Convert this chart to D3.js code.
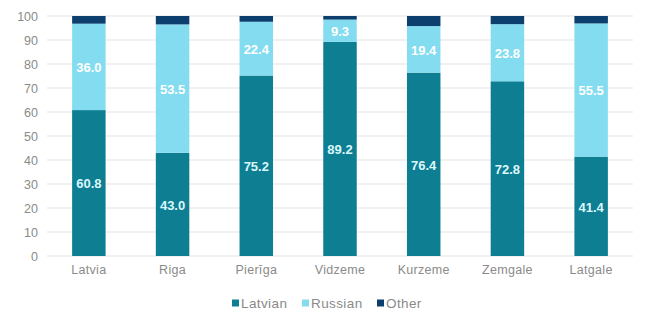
<!DOCTYPE html>
<html>
<head>
<meta charset="utf-8">
<script src="https://cdn.jsdelivr.net/npm/d3@7"></script>
<style>
  html, body { margin: 0; padding: 0; background: #fff; }
  svg { display: block; font-family: "Liberation Sans", Arial, sans-serif; }
</style>
</head>
<body>
<svg id="chart" width="650" height="324"></svg>
<script>
// Population by ethnicity, share of total (%)
const regions = ["Latvia", "Riga", "Pierīga", "Vidzeme", "Kurzeme", "Zemgale", "Latgale"];
const latvian = [60.8, 43.0, 75.2, 89.2, 76.4, 72.8, 41.4];
const russian = [36.0, 53.5, 22.4, 9.3, 19.4, 23.8, 55.5];
const other   = [3.2, 3.5, 2.4, 1.5, 4.2, 3.4, 3.1];
const seriesNames = ["Latvian", "Russian", "Other"];
const yTicks = [0, 10, 20, 30, 40, 50, 60, 70, 80, 90, 100];

const colors = { Latvian: "#0e7f93", Russian: "#84dcf0", Other: "#0d3f6e" };
const labelColors = { Latvian: "#dcf7fc", Russian: "#ffffff" };

const rows = regions.map((r, i) => ({ region: r, Latvian: latvian[i], Russian: russian[i], Other: other[i] }));
const stacked = d3.stack().keys(seriesNames)(rows);

const svg = d3.select("#chart");
const margin = { left: 47, right: 17, top: 16, bottom: 68 };
const W = 650, H = 324;

const x = d3.scaleBand().domain(regions).range([margin.left, W - margin.right]).paddingInner(0.6).paddingOuter(0.3);
const y = d3.scaleLinear().domain([0, 100]).range([H - margin.bottom, margin.top]);

// gridlines
svg.append("g").selectAll("line").data(yTicks).join("line")
  .attr("x1", margin.left).attr("x2", W - margin.right)
  .attr("y1", d => y(d)).attr("y2", d => y(d))
  .attr("stroke", "#e3e3e3").attr("stroke-width", 1);

// y axis labels
const yAxis = svg.append("g").attr("transform", `translate(${margin.left - 9},0)`)
  .call(d3.axisLeft(y).tickValues(yTicks).tickSize(0).tickPadding(0));
yAxis.select(".domain").remove();
yAxis.selectAll("text").attr("fill", "#8a8a8a").attr("font-size", 12.5)
  .style("font-family", "'Liberation Sans', Arial, sans-serif");

// x axis labels
const xAxis = svg.append("g").attr("transform", `translate(0,${y(0)})`)
  .call(d3.axisBottom(x).tickSize(0).tickPadding(9));
xAxis.select(".domain").remove();
xAxis.selectAll("text").attr("fill", "#8a8a8a").attr("font-size", 12.5)
  .style("letter-spacing", "0.3px")
  .style("font-family", "'Liberation Sans', Arial, sans-serif");

// stacked bars
const layers = svg.append("g").selectAll("g").data(stacked).join("g")
  .attr("fill", d => colors[d.key]);
layers.selectAll("rect").data(d => d).join("rect")
  .attr("x", d => x(d.data.region))
  .attr("width", x.bandwidth())
  .attr("y", d => y(d[1]))
  .attr("height", d => y(d[0]) - y(d[1]));

// value labels on Latvian and Russian segments
stacked.filter(s => s.key !== "Other").forEach(s => {
  svg.append("g").selectAll("text").data(s).join("text")
    .attr("x", d => x(d.data.region) + x.bandwidth() / 2)
    .attr("y", d => y((d[0] + d[1]) / 2))
    .attr("dy", "0.4em")
    .attr("text-anchor", "middle")
    .attr("font-size", 13)
    .attr("font-weight", "bold")
    .attr("fill", labelColors[s.key])
    .text(d => d.data[s.key].toFixed(1));
});

// legend
const legendItems = [
  { key: "Latvian", x: 232 },
  { key: "Russian", x: 302 },
  { key: "Other", x: 377 }
];
const lg = svg.append("g").attr("transform", "translate(0,303)");
lg.selectAll("rect").data(legendItems).join("rect")
  .attr("x", d => d.x).attr("y", -3.5).attr("width", 7).attr("height", 7)
  .attr("fill", d => colors[d.key]);
lg.selectAll("text").data(legendItems).join("text")
  .attr("x", d => d.x + 9).attr("y", 0).attr("dy", "0.36em")
  .attr("font-size", 13.5).attr("fill", "#8a8a8a")
  .style("letter-spacing", "0.4px")
  .text(d => d.key);
</script>
</body>
</html>
